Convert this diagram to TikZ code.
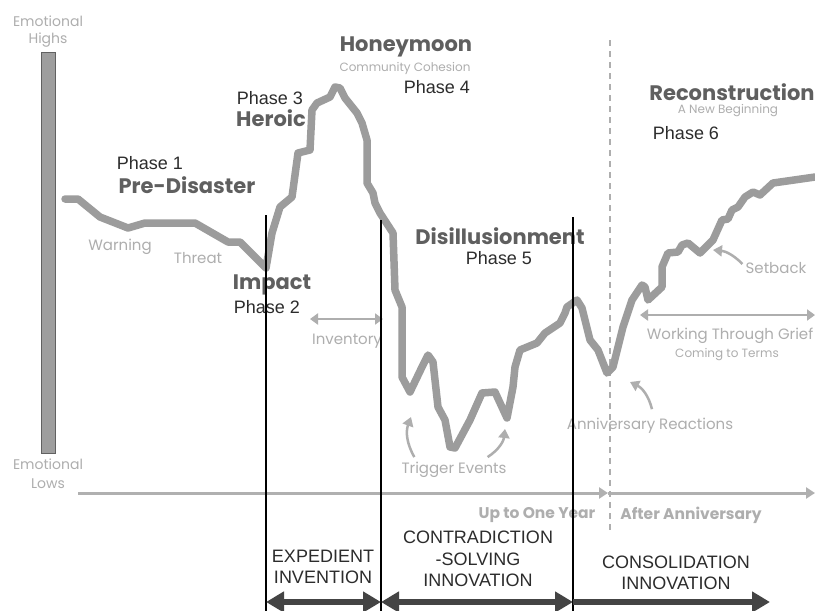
\documentclass[tikz,border=0pt]{standalone}
\usepackage{fontspec}
\setmainfont{Liberation Sans}
\newfontfamily\geofont{Poppins}
\usetikzlibrary{arrows.meta}

\definecolor{curvegray}{HTML}{9C9C9C}
\definecolor{titlegray}{HTML}{5F5F5F}
\definecolor{notegray}{HTML}{AEAEAE}
\definecolor{darktext}{HTML}{2C2C2C}
\definecolor{bandgray}{HTML}{444444}

\begin{document}
\begin{tikzpicture}[x=1pt,y=-1pt, inner sep=1pt,
	title/.style={font=\geofont\bfseries\fontsize{21}{21}\selectfont, text=titlegray},
	subtitle/.style={font=\geofont\fontsize{12}{12}\selectfont, text=notegray},
	note/.style={font=\geofont\fontsize{15}{15}\selectfont, text=notegray},
	phase/.style={font=\fontsize{18}{18}\selectfont, text=darktext},
	band/.style={font=\fontsize{18}{21.5}\selectfont, text=darktext, align=center},
	noteline/.style={draw=notegray, line width=2.5pt, -{Triangle[length=9pt,width=11pt]}},
	bandarrow/.style={draw=bandgray, line width=6pt, {Triangle[length=18pt,width=20pt]}-{Triangle[length=18pt,width=20pt]}},
	divider/.style={draw=black, line width=1.6pt}]
	\useasboundingbox[fill=white] (0,0) rectangle (815,611);

	% emotional scale bar
	\draw[fill=black!38, draw=black!62, line width=1pt] (41,52) rectangle (55,453);
	\node[note, font=\geofont\fontsize{14}{14}\selectfont] (hi1) at (48,21) {Emotional};
	\node[note, font=\geofont\fontsize{14}{14}\selectfont] (hi2) at (48,40) {Highs};
	\node[note, font=\geofont\fontsize{14}{14}\selectfont] (lo1) at (48,464) {Emotional};
	\node[note, font=\geofont\fontsize{14}{14}\selectfont] (lo2) at (48,484) {Lows};

	% time axis
	\coordinate (t0) at (78,493);
	\coordinate (t1) at (608,493);
	\coordinate (t2) at (815,493);
	\draw[noteline, line width=3pt, draw=curvegray!80] (t0) -- (t1);
	\draw[noteline, line width=3pt, draw=curvegray!80] (t1) -- (t2);
	\coordinate (d0) at (610,40);
	\coordinate (d1) at (610,533);
	\draw[draw=notegray, line width=1.5pt, dash pattern=on 6pt off 5pt] (d0) -- (d1);
	\node[title, font=\geofont\bfseries\fontsize{15.5}{15.5}\selectfont, text=notegray] (year) at (537,515) {Up to One Year};
	\node[title, font=\geofont\bfseries\fontsize{15.5}{15.5}\selectfont, text=notegray] (after) at (691,515) {After Anniversary};

	% the curve
	\draw[curvegray, line width=7.5pt, line join=round, line cap=round] plot coordinates {
		(65,199) (78,199) (100,217) (128,228) (145,223) (195,223) (228,242) (240,242) (266,268)
		(272,233) (280,207) (292,197) (298,153) (310,150) (312,110) (317,103) (330,97) (335,87)
		(340,88) (345,98) (357,113) (362,123) (367,140) (367,183) (373,193) (375,203) (380,213)
		(393,233) (395,290) (402,307) (402,377) (410,392) (422,367) (428,355) (433,362) (438,407)
		(445,420) (450,447) (455,448) (470,420) (482,393) (495,392) (507,418) (513,387) (515,367)
		(520,350) (537,343) (545,333) (560,323) (565,313) (567,307) (577,300) (582,308) (590,340)
		(598,350) (607,373) (613,367) (623,327) (632,300) (642,285) (645,287) (648,300) (662,287)
		(662,267) (668,253) (678,252) (682,245) (688,243) (700,253) (713,240) (722,220) (728,219)
		(732,210) (738,207) (745,197) (753,192) (760,195) (773,183) (815,177)};

	% phase titles
	\node[phase] (ph1) at (150,163) {Phase 1};
	\node[title] (predis) at (187,185) {Pre-Disaster};
	\node[title] (impact) at (272,285) {Impact};
	\node[phase] (ph2) at (267,307) {Phase 2};
	\node[phase] (ph3) at (270,98) {Phase 3};
	\node[title] (heroic) at (271,118) {Heroic};
	\node[title] (honey) at (406,47) {Honeymoon};
	\node[subtitle] (cohes) at (405,68) {Community Cohesion};
	\node[phase] (ph4) at (437,87) {Phase 4};
	\node[title] (disill) at (500,236) {Disillusionment};
	\node[phase] (ph5) at (499,258) {Phase 5};
	\node[title] (recon) at (732,92) {Reconstruction};
	\node[subtitle] (newbeg) at (728,111) {A New Beginning};
	\node[phase] (ph6) at (686,133) {Phase 6};

	% notes along the curve
	\node[note] (warn) at (120,247) {Warning};
	\node[note] (threat) at (198,258) {Threat};
	\node[note] (invent) at (347,341) {Inventory};
	\coordinate (i0) at (310,319);
	\coordinate (i1) at (383,319);
	\draw[noteline, line width=2.5pt, {Triangle[length=8pt,width=11pt]}-{Triangle[length=8pt,width=11pt]}] (i0) -- (i1);
	\node[note] (trigger) at (454,470) {Trigger Events};
	\coordinate (tr1) at (411,417);
	\coordinate (tr2) at (505,429);
	\draw[noteline] (trigger.north west) ++(14,-4) to[bend left=25] (tr1);
	\draw[noteline] (trigger.north east) ++(-20,-4) to[bend right=25] (tr2);
	\node[note] (anniv) at (650,426) {Anniversary Reactions};
	\coordinate (an1) at (630,382);
	\draw[noteline] (anniv.north) ++(2,-8) to[bend right=25] (an1);
	\node[note] (grief) at (730,336) {Working Through Grief};
	\node[subtitle] (terms) at (727,355) {Coming to Terms};
	\coordinate (g0) at (640,315);
	\coordinate (g1) at (815,315);
	\draw[noteline, line width=2.5pt, {Triangle[length=8pt,width=11pt]}-{Triangle[length=8pt,width=11pt]}] (g0) -- (g1);
	\node[note] (setback) at (776,268) {Setback};
	\coordinate (sb1) at (713,250);
	\draw[noteline] (setback.west) ++(-2,-4) to[bend right=20] (sb1);

	% innovation bands
	\coordinate (b0) at (266,602);
	\coordinate (b1) at (381,602);
	\coordinate (b2) at (573,602);
	\coordinate (b3) at (770,602);
	\draw[divider] (266,215) -- (266,611);
	\draw[divider] (381,220) -- (381,611);
	\draw[divider] (573,217) -- (573,611);
	\draw[bandarrow] (b0) -- (b1);
	\draw[bandarrow] (b1) -- (b2);
	\draw[bandarrow, -{Triangle[length=18pt,width=20pt]}] (b2) -- (b3);
	\node[band] (expedient) at (323,567) {EXPEDIENT\\INVENTION};
	\node[band] (contra) at (478,559) {CONTRADICTION\\-SOLVING\\INNOVATION};
	\node[band] (consol) at (676,573) {CONSOLIDATION\\INNOVATION};
\end{tikzpicture}
\end{document}
